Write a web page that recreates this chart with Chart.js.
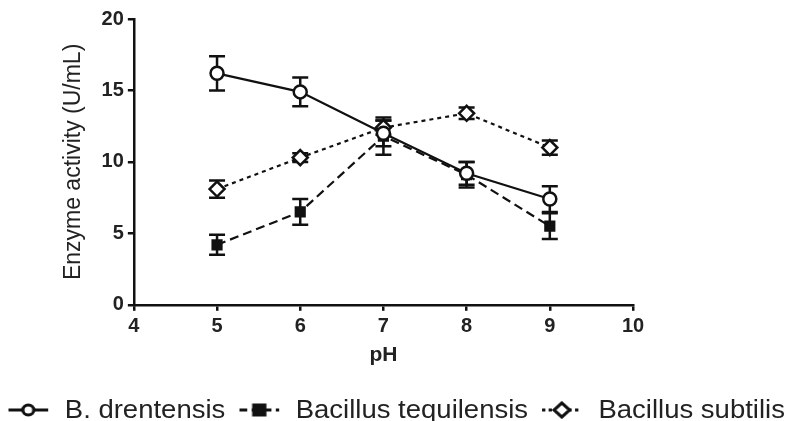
<!DOCTYPE html>
<html>
<head>
<meta charset="utf-8">
<script src="https://cdn.jsdelivr.net/npm/chart.js@4"></script>
<style>
  html, body { margin: 0; padding: 0; background: #fff; }
  #wrap { position: relative; width: 793px; height: 421px; overflow: hidden; }
  #legenda { position: absolute; left: 0; top: 395px; width: 793px; display: flex; justify-content: center;
             align-items: center; font-family: 'Liberation Sans', Arial, sans-serif; font-size: 25px; color: #222;
             white-space: nowrap; transform: scaleX(1.1); transform-origin: 399px 50%; }
  #legenda span.item { display: flex; align-items: center; margin: 0 6px; }
  #legenda canvas { margin-right: 14px; }
</style>
</head>
<body>
<div id="wrap">
  <canvas id="grafico" width="793" height="421"></canvas>
  <div id="legenda"></div>
</div>
<script>
const phValues = [5, 6, 7, 8, 9];
const seriesNames = ['B. drentensis', 'Bacillus tequilensis', 'Bacillus subtilis'];
const drentensis = [16.2, 14.9, 12.0, 9.2, 7.4];
const drentensisErr = [1.2, 1.0, 0.9, 0.8, 0.9];
const tequilensis = [4.2, 6.5, 11.8, 9.1, 5.5];
const tequilensisErr = [0.7, 0.9, 1.3, 0.9, 0.9];
const subtilis = [8.1, 10.3, 12.4, 13.4, 11.0];
const subtilisErr = [0.6, 0.3, 0.5, 0.4, 0.5];
const yTicks = [0, 5, 10, 15, 20];
const xTicks = [4, 5, 6, 7, 8, 9, 10];

const preto = '#111';
const fonte = "'Liberation Sans', Arial, sans-serif";

function pontos(valores) {
    return phValues.map((x, i) => ({ x: x, y: valores[i] }));
}

// icone da legenda: linha + marcador
function iconeLegenda(dash, estilo) {
    const c = document.createElement('canvas');
    c.width = 38; c.height = 18;
    const ctx = c.getContext('2d');
    ctx.strokeStyle = preto;
    ctx.lineWidth = 3;
    ctx.setLineDash(dash);
    ctx.beginPath();
    ctx.moveTo(1, 9); ctx.lineTo(37, 9);
    ctx.stroke();
    ctx.setLineDash([]);
    ctx.beginPath();
    if (estilo === 'circle') {
        ctx.arc(19, 9, 5, 0, Math.PI * 2);
        ctx.fillStyle = '#fff';
    } else if (estilo === 'rect') {
        ctx.rect(14, 4, 10, 10);
        ctx.fillStyle = preto;
    } else {
        ctx.moveTo(19, 2); ctx.lineTo(26, 9); ctx.lineTo(19, 16); ctx.lineTo(12, 9); ctx.closePath();
        ctx.fillStyle = '#fff';
    }
    ctx.fill();
    ctx.stroke();
    return c;
}

const erros = [drentensisErr, tequilensisErr, subtilisErr];

const barrasErro = {
    id: 'barrasErro',
    beforeDatasetsDraw(chart) {
        const ctx = chart.ctx;
        const xs = chart.scales.x, ys = chart.scales.y;
        ctx.save();
        ctx.strokeStyle = preto;
        ctx.lineWidth = 2.5;
        chart.data.datasets.forEach((ds, d) => {
            ds.data.forEach((p, i) => {
                const e = erros[d][i];
                const px = xs.getPixelForValue(p.x);
                const top = ys.getPixelForValue(p.y + e);
                const bot = ys.getPixelForValue(p.y - e);
                ctx.beginPath();
                ctx.moveTo(px, top); ctx.lineTo(px, bot);
                ctx.moveTo(px - 8, top); ctx.lineTo(px + 8, top);
                ctx.moveTo(px - 8, bot); ctx.lineTo(px + 8, bot);
                ctx.stroke();
            });
        });
        ctx.restore();
    }
};

const chart = new Chart(document.getElementById('grafico').getContext('2d'), {
    type: 'line',
    data: {
        datasets: [
            {
                label: seriesNames[0],
                data: pontos(drentensis),
                borderColor: preto, borderWidth: 2.2,
                pointStyle: 'circle', pointRadius: 6.5,
                pointBackgroundColor: '#fff', pointBorderColor: preto, pointBorderWidth: 2.5
            },
            {
                label: seriesNames[1],
                data: pontos(tequilensis),
                borderColor: preto, borderWidth: 2.2, borderDash: [9, 5],
                pointStyle: 'rect', pointRadius: 6.5,
                pointBackgroundColor: preto, pointBorderColor: preto, pointBorderWidth: 2
            },
            {
                label: seriesNames[2],
                data: pontos(subtilis),
                borderColor: preto, borderWidth: 2.2, borderDash: [4, 4],
                pointStyle: 'rectRot', pointRadius: 7.5,
                pointBackgroundColor: '#fff', pointBorderColor: preto, pointBorderWidth: 2.5
            }
        ]
    },
    options: {
        responsive: false,
        animation: false,
        layout: { padding: { left: 60, right: 160, top: 19, bottom: 53 } },
        plugins: {
            tooltip: { enabled: false },
            legend: { display: false }
        },
        scales: {
            x: {
                type: 'linear',
                min: 4, max: 10,
                afterBuildTicks(axis) { axis.ticks = xTicks.map(v => ({ value: v })); },
                border: { color: preto, width: 2.5 },
                grid: { drawOnChartArea: false, drawTicks: true, tickLength: 6, color: preto, lineWidth: 2.5 },
                ticks: { color: '#222', padding: 4, font: { family: fonte, size: 20, weight: 'bold' } },
                title: { display: true, text: 'pH', color: '#222', padding: { top: 0, bottom: 0 }, font: { family: fonte, size: 21, weight: 'bold' } }
            },
            y: {
                min: 0, max: 20,
                afterBuildTicks(axis) { axis.ticks = yTicks.map(v => ({ value: v })); },
                border: { color: preto, width: 2.5 },
                grid: { drawOnChartArea: false, drawTicks: true, tickLength: 6, color: preto, lineWidth: 2.5 },
                ticks: { color: '#222', padding: 4, font: { family: fonte, size: 20, weight: 'bold' } },
                title: { display: true, text: 'Enzyme activity (U/mL)', color: '#222', padding: { top: 0, bottom: 10 }, font: { family: fonte, size: 23 } }
            }
        }
    },
    plugins: [barrasErro]
});

// legenda em HTML (linha + marcador + nome)
const estilos = [[[], 'circle'], [[7, 4], 'rect'], [[3, 3], 'diamond']];
const legenda = document.getElementById('legenda');
seriesNames.forEach((nome, i) => {
    const item = document.createElement('span');
    item.className = 'item';
    item.appendChild(iconeLegenda(estilos[i][0], estilos[i][1]));
    item.appendChild(document.createTextNode(nome));
    legenda.appendChild(item);
});
</script>
</body>
</html>
